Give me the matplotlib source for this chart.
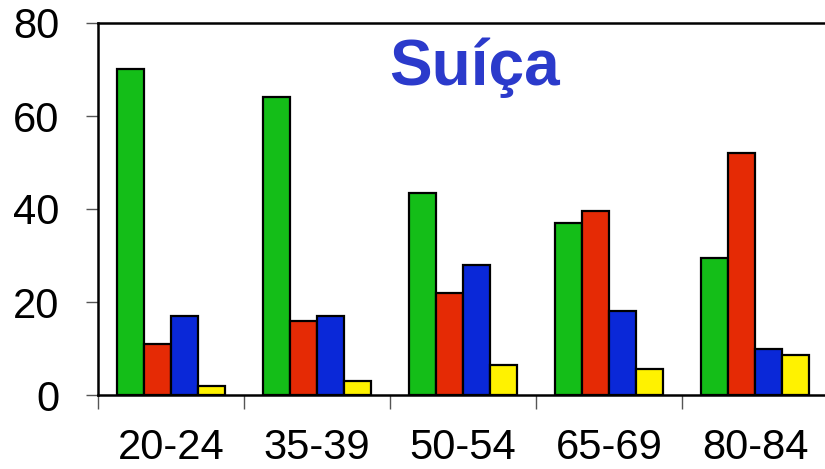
import numpy as np
import matplotlib.pyplot as plt

plt.rcParams['font.family'] = ['Liberation Sans', 'DejaVu Sans']

groups = ['20-24', '35-39', '50-54', '65-69', '80-84']
green_vals = [70, 64, 43.5, 37, 29.5]
red_vals = [11, 16, 22, 39.6, 52]
blue_vals = [17, 17, 28, 18, 10]
yellow_vals = [2, 3, 6.5, 5.5, 8.5]
series = [green_vals, red_vals, blue_vals, yellow_vals]
colors = ['#14be18', '#e52a05', '#0a28d8', '#fff200']

fig = plt.figure(figsize=(8.25, 4.69), dpi=100)
ax = fig.add_axes([98 / 825, 74 / 469, 730 / 825, 372 / 469])

x = np.arange(len(groups))
w = 0.185
for i, (vals, c) in enumerate(zip(series, colors)):
    ax.bar(x + (i - 1.5) * w, vals, w, color=c, edgecolor='black', linewidth=1.6, zorder=3)

ax.set_xlim(-0.5, 4.5)
ax.set_ylim(0, 80)
ax.set_yticks([0, 20, 40, 60, 80])
ax.tick_params(axis='y', length=9, width=1, color='#555555', pad=19, labelsize=30)
ax.set_xticks(x)
ax.set_xticklabels(groups)
ax.tick_params(axis='x', which='major', length=0, pad=24, labelsize=30)
ax.set_xticks(np.arange(-0.5, 5, 1), minor=True)
ax.tick_params(axis='x', which='minor', length=10, width=1, color='#555555')

for s in ['top', 'left', 'bottom']:
    ax.spines[s].set_linewidth(1.8)
ax.spines['right'].set_visible(False)

ax.text(0.516, 0.88, 'Suíça', transform=ax.transAxes, ha='center', va='center',
        fontsize=46, fontweight='bold', color='#2b3acb')

fig.savefig('out.png', dpi=100)
